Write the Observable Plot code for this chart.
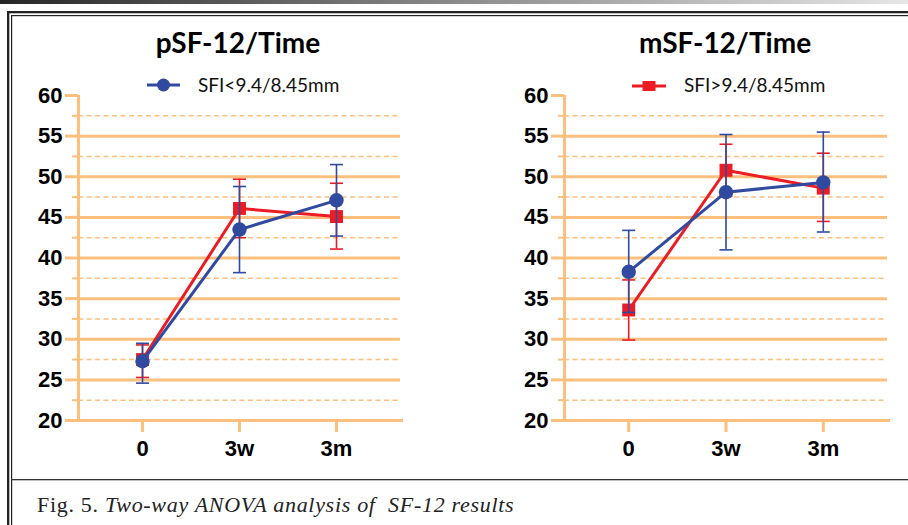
<!DOCTYPE html>
<html>
<head>
<meta charset="utf-8">
<script src="https://cdn.jsdelivr.net/npm/d3@7"></script>
<script src="https://cdn.jsdelivr.net/npm/@observablehq/plot@0.6"></script>
<style>
  html, body { margin: 0; padding: 0; background: #fff; }
  #page { position: relative; width: 908px; height: 525px; overflow: hidden; background: #fff; }
  .panel { position: absolute; top: 0; }
  #deco { position: absolute; left: 0; top: 0; pointer-events: none; }
</style>
</head>
<body>
<div id="page">
  <div id="left" class="panel" style="left:0"></div>
  <div id="right" class="panel" style="left:454px"></div>
</div>
<script>
// ---- data ----
const times = ["0", "3w", "3m"];
const panelTitles = ["pSF-12/Time", "mSF-12/Time"];
const groupLabels = ["SFI<9.4/8.45mm", "SFI>9.4/8.45mm"];
const yTickValues = [20, 25, 30, 35, 40, 45, 50, 55, 60];
const yMinorValues = [22.5, 27.5, 32.5, 37.5, 42.5, 47.5, 52.5, 57.5];

// pSF-12, SFI<9.4 (blue)
const pLowMean = [27.3, 43.5, 47.1];
const pLowLo   = [24.6, 38.2, 42.7];
const pLowHi   = [29.5, 48.8, 51.5];
// pSF-12, SFI>9.4 (red)
const pHighMean = [27.5, 46.1, 45.1];
const pHighLo   = [25.3, 42.5, 41.1];
const pHighHi   = [29.3, 49.7, 49.2];
// mSF-12, SFI<9.4 (blue)
const mLowMean = [38.3, 48.1, 49.3];
const mLowLo   = [33.3, 41.0, 43.2];
const mLowHi   = [43.4, 55.2, 55.5];
// mSF-12, SFI>9.4 (red)
const mHighMean = [33.6, 50.8, 48.6];
const mHighLo   = [29.9, 47.6, 44.5];
const mHighHi   = [37.3, 54.0, 52.9];

// ---- styles ----
const ORANGE = "#fbbf7e";
const BLUE = "#2f4a9f";
const RED = "#ec1c24";
const AXIS_FONT = "'Liberation Sans', Arial, sans-serif";
const xDomain = [-0.66, 2.66];

const rows = (mean, lo, hi) => mean.map((m, i) => ({i, mean: m, lo: lo[i], hi: hi[i]}));

const capSymbol = {
  draw(ctx, size) {
    const w = Math.sqrt(size / Math.PI);
    ctx.moveTo(-w, 0);
    ctx.lineTo(w, 0);
  }
};

function seriesMarks(data, color, symbol, r) {
  return [
    Plot.line(data, {x: "i", y: "mean", stroke: color, strokeWidth: 3}),
    Plot.ruleX(data, {x: "i", y1: "lo", y2: "hi", stroke: color, strokeWidth: 1.6}),
    Plot.dot(data, {x: "i", y: "lo", symbol: capSymbol, r: 6.5, stroke: color, strokeWidth: 1.6, fill: "none"}),
    Plot.dot(data, {x: "i", y: "hi", symbol: capSymbol, r: 6.5, stroke: color, strokeWidth: 1.6, fill: "none"}),
    Plot.dot(data, {x: "i", y: "mean", symbol, r, fill: color, stroke: "none"})
  ];
}

function panel(lowRows, highRows, marginLeft, marginRight) {
  return Plot.plot({
    width: 454,
    height: 470,
    marginTop: 95,
    marginBottom: 50,
    marginLeft,
    marginRight,
    style: {background: "transparent", overflow: "visible"},
    x: {type: "linear", domain: xDomain},
    y: {domain: [yTickValues[0], yTickValues[yTickValues.length - 1]]},
    marks: [
      Plot.ruleY(yMinorValues, {stroke: ORANGE, strokeWidth: 1.5, strokeDasharray: "5,3.5"}),
      Plot.ruleY(yTickValues.slice(1, -1), {stroke: ORANGE, strokeWidth: 3}),
      Plot.ruleY([yTickValues[0]], {stroke: ORANGE, strokeWidth: 3, insetRight: -3}),
      Plot.axisY({ticks: yMinorValues, tickSize: 6, tickFormat: () => "", stroke: ORANGE, strokeWidth: 2, label: null}),
      Plot.axisY({ticks: yTickValues, tickSize: 13, tickPadding: 3, stroke: ORANGE, strokeWidth: 3,
        fill: "black", fontSize: 22, fontWeight: "bold", fontFamily: AXIS_FONT, label: null}),
      Plot.axisX({ticks: [0, 1, 2], tickFormat: i => times[i], tickSize: 12, tickPadding: 8,
        stroke: ORANGE, strokeWidth: 3, fill: "black", fontSize: 22, fontWeight: "bold", fontFamily: AXIS_FONT, label: null}),
      Plot.ruleX([xDomain[0]], {y1: yTickValues[0], y2: yTickValues[yTickValues.length - 1], stroke: ORANGE, strokeWidth: 3}),
      ...seriesMarks(highRows, RED, "square", 7.3),
      ...seriesMarks(lowRows, BLUE, "circle", 7.2)
    ]
  });
}

document.getElementById("left").append(panel(rows(pLowMean, pLowLo, pLowHi), rows(pHighMean, pHighLo, pHighHi), 78, 54));
document.getElementById("right").append(panel(rows(mLowMean, mLowLo, mLowHi), rows(mHighMean, mHighLo, mHighHi), 110, 21));

// ---- titles, legends, caption, frame ----
const page = document.getElementById("page");
const ns = "http://www.w3.org/2000/svg";
const deco = document.createElementNS(ns, "svg");
deco.setAttribute("id", "deco");
deco.setAttribute("width", 908);
deco.setAttribute("height", 525);
deco.innerHTML = `
  <defs>
    <linearGradient id="topbar" x1="0" x2="1" y1="0" y2="0">
      <stop offset="0" stop-color="#262626"/>
      <stop offset="0.5" stop-color="#8a8a8a"/>
      <stop offset="1" stop-color="#e6e6e6"/>
    </linearGradient>
  </defs>
  <rect x="0" y="0" width="908" height="4" fill="url(#topbar)"/>
  <rect x="7" y="11" width="901" height="2.3" fill="#222"/>
  <rect x="7" y="11" width="2.3" height="514" fill="#222"/>
  <rect x="11" y="15" width="897" height="1.2" fill="#222"/>
  <rect x="11" y="15" width="1.2" height="510" fill="#222"/>
  <rect x="11" y="479" width="897" height="1.3" fill="#333"/>
  <g font-family="Lato, 'Open Sans', sans-serif" font-weight="bold" font-size="28" text-anchor="middle" fill="#000">
    <text x="238" y="53">${panelTitles[0]}</text>
    <text x="725" y="53">${panelTitles[1]}</text>
  </g>
  <line x1="147" x2="180" y1="85" y2="85" stroke="${BLUE}" stroke-width="3"/>
  <circle cx="163.5" cy="85" r="6.5" fill="${BLUE}"/>
  <line x1="632" x2="666" y1="86" y2="86" stroke="${RED}" stroke-width="3"/>
  <rect x="642.5" y="81" width="13" height="10" fill="${RED}"/>
  <g font-family="Lato, 'Open Sans', sans-serif" font-size="19" fill="#111">
    <text x="198" y="92">${groupLabels[0]}</text>
    <text x="684" y="92">${groupLabels[1]}</text>
  </g>
  <text x="37" y="512" font-family="'Liberation Serif', 'DejaVu Serif', serif" font-size="22" letter-spacing="0.7" fill="#222">Fig. 5. <tspan font-style="italic">Two-way ANOVA analysis of&#160; SF-12 results</tspan></text>
`;
page.append(deco);
</script>
</body>
</html>
